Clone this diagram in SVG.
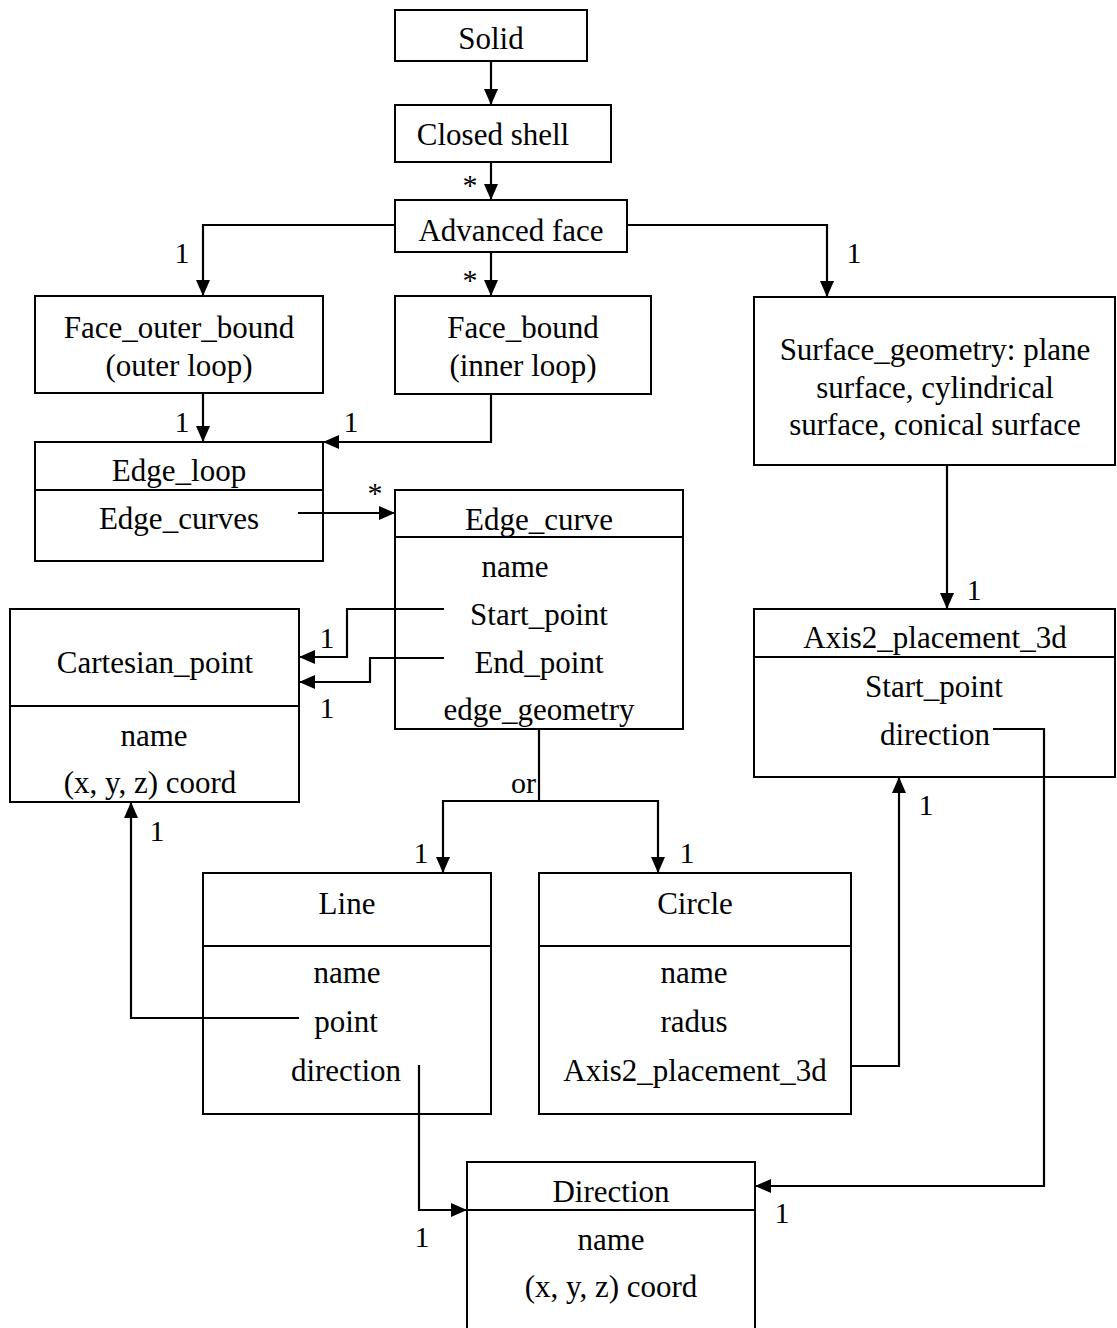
<svg xmlns="http://www.w3.org/2000/svg" width="1117" height="1328" viewBox="0 0 1117 1328">
<style>
.box{fill:#fff;stroke:#000;stroke-width:2}
.div{stroke:#000;stroke-width:2}
.c{fill:none;stroke:#000;stroke-width:2.2}
text{font-family:"Liberation Serif","Times New Roman",serif;font-size:31px;fill:#000;text-anchor:middle}
.lbl{font-size:30px}
</style>
<defs>
<marker id="ah" markerUnits="userSpaceOnUse" markerWidth="16" markerHeight="14" refX="16" refY="7" orient="auto">
<path d="M0,0 L16,7 L0,14 z" fill="#000"/>
</marker>
</defs>
<rect width="1117" height="1328" fill="#fff"/>

<g id="solid"><rect class="box" x="395" y="10" width="192" height="51"/><text x="491" y="49">Solid</text></g>
<g id="closed_shell"><rect class="box" x="395" y="105" width="216" height="57"/><text x="493" y="145">Closed shell</text></g>
<g id="advanced_face"><rect class="box" x="395" y="200" width="232" height="52"/><text x="511" y="241">Advanced face</text></g>
<g id="face_outer_bound"><rect class="box" x="35" y="296" width="288" height="97"/><text x="179" y="338">Face_outer_bound</text><text x="179" y="376">(outer loop)</text></g>
<g id="face_bound"><rect class="box" x="395" y="296" width="256" height="98"/><text x="523" y="338">Face_bound</text><text x="523" y="376">(inner loop)</text></g>
<g id="surface_geometry"><rect class="box" x="754" y="297" width="361" height="168"/><text x="935" y="360">Surface_geometry: plane</text><text x="935" y="398">surface, cylindrical</text><text x="935" y="435">surface, conical surface</text></g>
<g id="edge_loop"><rect class="box" x="35" y="442" width="288" height="119"/><line class="div" x1="35" y1="490" x2="323" y2="490"/><text x="179" y="481">Edge_loop</text><text x="179" y="529">Edge_curves</text></g>
<g id="edge_curve"><rect class="box" x="395" y="490" width="288" height="239"/><line class="div" x1="395" y1="537" x2="683" y2="537"/><text x="539" y="530">Edge_curve</text><text x="515" y="577">name</text><text x="539" y="625">Start_point</text><text x="539" y="673">End_point</text><text x="539" y="720">edge_geometry</text></g>
<g id="cartesian_point"><rect class="box" x="10" y="609" width="289" height="193"/><line class="div" x1="10" y1="706" x2="299" y2="706"/><text x="155" y="673">Cartesian_point</text><text x="154" y="746">name</text><text x="150" y="793">(x, y, z) coord</text></g>
<g id="axis2_placement_3d"><rect class="box" x="754" y="609" width="361" height="168"/><line class="div" x1="754" y1="657" x2="1115" y2="657"/><text x="935" y="648">Axis2_placement_3d</text><text x="934" y="697">Start_point</text><text x="935" y="745">direction</text></g>
<g id="line"><rect class="box" x="203" y="873" width="288" height="241"/><line class="div" x1="203" y1="946" x2="491" y2="946"/><text x="347" y="914">Line</text><text x="347" y="983">name</text><text x="346" y="1032">point</text><text x="346" y="1081">direction</text></g>
<g id="circle"><rect class="box" x="539" y="873" width="312" height="241"/><line class="div" x1="539" y1="946" x2="851" y2="946"/><text x="695" y="914">Circle</text><text x="694" y="983">name</text><text x="694" y="1032">radus</text><text x="695" y="1081">Axis2_placement_3d</text></g>
<g id="direction"><rect class="box" x="467" y="1162" width="288" height="180"/><line class="div" x1="467" y1="1210" x2="755" y2="1210"/><text x="611" y="1202">Direction</text><text x="611" y="1250">name</text><text x="611" y="1297">(x, y, z) coord</text></g>

<g id="connectors">
<line class="c" x1="491" y1="61" x2="491" y2="105" marker-end="url(#ah)"/>
<line class="c" x1="491" y1="162" x2="491" y2="200" marker-end="url(#ah)"/>
<polyline class="c" points="395,225 203,225 203,296" marker-end="url(#ah)"/>
<line class="c" x1="491" y1="252" x2="491" y2="296" marker-end="url(#ah)"/>
<polyline class="c" points="627,225 827,225 827,297" marker-end="url(#ah)"/>
<line class="c" x1="203" y1="393" x2="203" y2="442" marker-end="url(#ah)"/>
<polyline class="c" points="491,394 491,442 323,442" marker-end="url(#ah)"/>
<line class="c" x1="298" y1="513" x2="395" y2="513" marker-end="url(#ah)"/>
<polyline class="c" points="444,609 347,609 347,657 299,657" marker-end="url(#ah)"/>
<polyline class="c" points="444,658 370,658 370,682 299,682" marker-end="url(#ah)"/>
<line class="c" x1="539" y1="729" x2="539" y2="801"/>
<polyline class="c" points="539,801 443,801 443,873" marker-end="url(#ah)"/>
<polyline class="c" points="539,801 658,801 658,873" marker-end="url(#ah)"/>
<polyline class="c" points="299,1018 131,1018 131,802" marker-end="url(#ah)"/>
<polyline class="c" points="419,1065 419,1210 467,1210" marker-end="url(#ah)"/>
<polyline class="c" points="852,1066 899,1066 899,777" marker-end="url(#ah)"/>
<polyline class="c" points="993,729 1044,729 1044,1186 755,1186" marker-end="url(#ah)"/>
<line class="c" x1="947" y1="465" x2="947" y2="609" marker-end="url(#ah)"/>

<text class="lbl" x="470" y="195">*</text>
<text class="lbl" x="182" y="263">1</text>
<text class="lbl" x="470" y="290">*</text>
<text class="lbl" x="854" y="263">1</text>
<text class="lbl" x="182" y="432">1</text>
<text class="lbl" x="351" y="432">1</text>
<text class="lbl" x="375" y="503">*</text>
<text class="lbl" x="327" y="648">1</text>
<text class="lbl" x="327" y="718">1</text>
<text class="lbl" x="536" y="793" style="text-anchor:end">or</text>
<text class="lbl" x="421" y="863">1</text>
<text class="lbl" x="687" y="863">1</text>
<text class="lbl" x="157" y="841">1</text>
<text class="lbl" x="422" y="1247">1</text>
<text class="lbl" x="926" y="815">1</text>
<text class="lbl" x="782" y="1223">1</text>
<text class="lbl" x="974" y="600">1</text>
</g>
</svg>
